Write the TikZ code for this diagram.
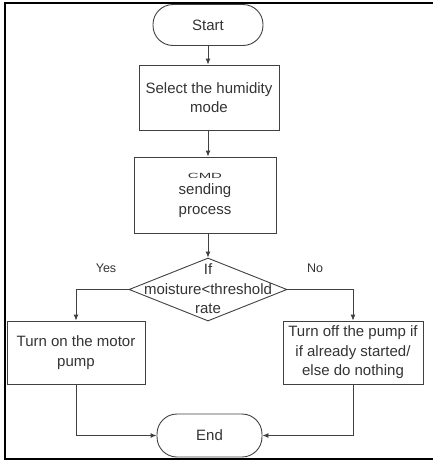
\documentclass[tikz,border=0pt]{standalone}
\usepackage{fontspec}
\setmainfont{Liberation Sans}
\usetikzlibrary{shapes.geometric,arrows.meta}
\begin{document}
\begin{tikzpicture}[x=1pt,y=-1pt,
  every node/.style={font=\fontsize{15}{19.5}\selectfont, text=black!80},
  box/.style={draw=black!75, line width=0.9pt, rectangle, align=center, inner sep=0pt},
  term/.style={draw=black!75, line width=0.9pt, rectangle, rounded corners=20pt, align=center, inner sep=0pt},
  conn/.style={draw=black!75, line width=0.9pt, -{Latex[length=6pt,width=5pt]}},
  lbl/.style={font=\fontsize{12.5}{14}\selectfont}]
\useasboundingbox (0,0) rectangle (433,461);
\draw[line width=2pt] (433,3) -- (5,3) -- (5,459) -- (433,459);
\node[term, minimum width=110pt, minimum height=41pt] (start) at (208,25) {Start};
\node[box, minimum width=140pt, minimum height=65pt] (select) at (209,97.5) {Select the humidity\\mode};
\node[box, minimum width=142pt, minimum height=76pt] (cmd) at (205,195) {\scalebox{1}[0.5]{CMD}\\[-3pt]sending\\process};
\node[diamond, draw=black!75, line width=0.9pt, minimum width=158pt, minimum height=63pt, inner sep=0pt] (dec) at (208,289.5) {};
\node[align=center] (dectext) at (208,289) {If\\moisture<threshold\\rate};
\node[box, minimum width=138pt, minimum height=63pt] (left) at (76,352.5) {Turn on the motor\\pump};
\node[box, minimum width=140pt, minimum height=63pt] (right) at (353,352.5) {Turn off the pump if\\if already started/\\else do nothing};
\node[term, minimum width=105pt, minimum height=43pt] (end) at (209.5,435.5) {End};
\node[lbl] (yes) at (106,268) {Yes};
\node[lbl] (no) at (315,268) {No};
\draw[conn] (start.south) -- (start.south |- select.north);
\draw[conn] (select.south -| start.south) -- (cmd.north -| start.south);
\draw[conn] (cmd.south -| start.south) -- (dec.north);
\draw[conn] (dec.west) -| (left.north);
\draw[conn] (dec.east) -| (right.north);
\draw[conn] (left.south) |- (end.west);
\draw[conn] (right.south) |- (end.east);
\end{tikzpicture}
\end{document}
